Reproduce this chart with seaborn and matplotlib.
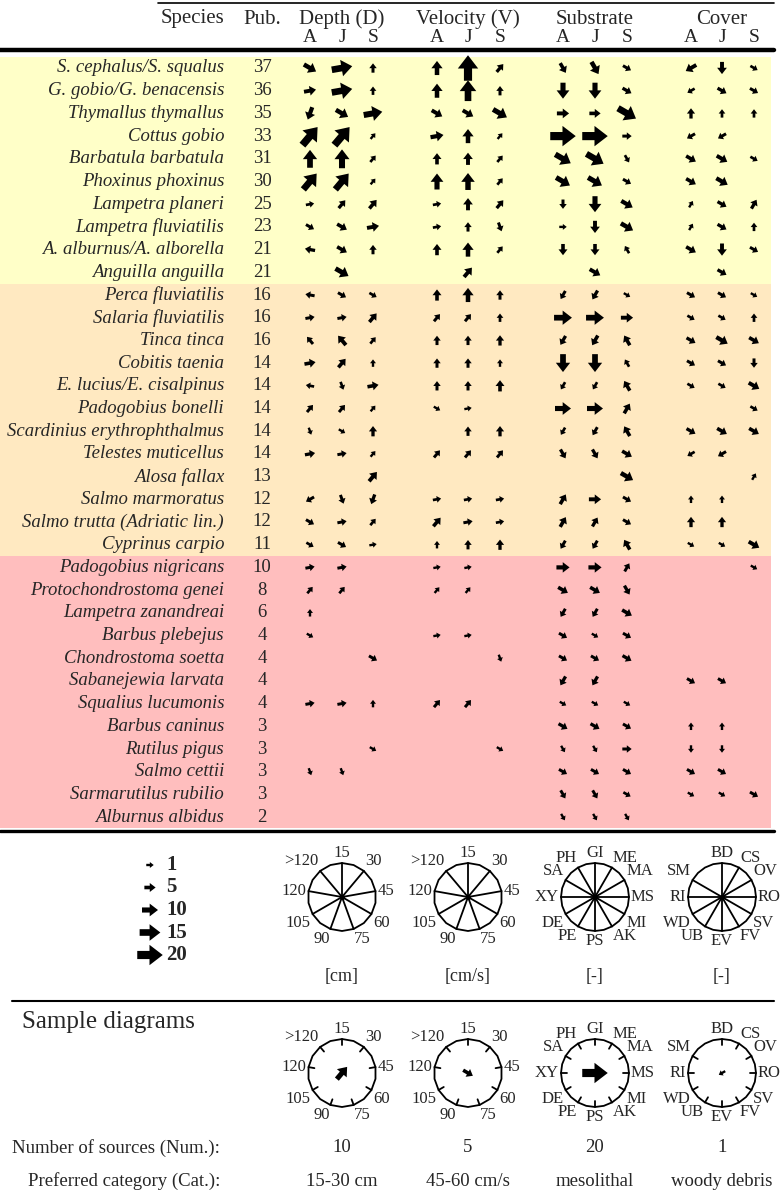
import numpy as np
import pandas as pd
import matplotlib.pyplot as plt
import seaborn as sns
from matplotlib.patches import FancyArrow, Polygon, Rectangle

# ---- data ----
species = ["S. cephalus/S. squalus", "G. gobio/G. benacensis", "Thymallus thymallus",
           "Cottus gobio", "Barbatula barbatula", "Phoxinus phoxinus", "Lampetra planeri",
           "Lampetra fluviatilis", "A. alburnus/A. alborella", "Anguilla anguilla",
           "Perca fluviatilis", "Salaria fluviatilis", "Tinca tinca", "Cobitis taenia",
           "E. lucius/E. cisalpinus", "Padogobius bonelli", "Scardinius erythrophthalmus",
           "Telestes muticellus", "Alosa fallax", "Salmo marmoratus",
           "Salmo trutta (Adriatic lin.)", "Cyprinus carpio", "Padogobius nigricans",
           "Protochondrostoma genei", "Lampetra zanandreai", "Barbus plebejus",
           "Chondrostoma soetta", "Sabanejewia larvata", "Squalius lucumonis",
           "Barbus caninus", "Rutilus pigus", "Salmo cettii", "Sarmarutilus rubilio",
           "Alburnus albidus"]
pubs = [37, 36, 35, 33, 31, 30, 25, 23, 21, 21, 16, 16, 16, 14, 14, 14, 14, 14, 13,
        12, 12, 11, 10, 8, 6, 4, 4, 4, 4, 3, 3, 3, 3, 2]
group_sizes = [10, 12, 12]
group_colors = ["#FFFFC8", "#FFE9C1", "#FFBEBE"]

seasons = ["A", "J", "S"]
depth_cats = ["15", "30", "45", "60", "75", "90", "105", "120", ">120"]
velocity_cats = ["15", "30", "45", "60", "75", "90", "105", "120", ">120"]
substrate_cats = ["GI", "ME", "MA", "MS", "MI", "AK", "PS", "PE", "DE", "XY", "SA", "PH"]
cover_cats = ["BD", "CS", "OV", "RO", "SV", "FV", "EV", "UB", "WD", "RI", "SM"]

# preferred category / number of sources for seasons A J S ("-" = no data)
depth = ["60/8 45/15 15/3", "45/6 45/15 15/2", "90/7 60/8 45/13", "30/18 30/18 30/1",
         "15/12 15/13 30/2", "30/15 30/15 30/1", "45/2 30/4 30/5", "60/3 60/5 45/6",
         "120/4 60/5 15/3", "- 60/9 -", "120/3 60/3 60/2", "45/3 45/3 30/5",
         ">120/3 >120/6 30/2", "45/5 30/5 15/1", "120/2 75/2 45/5", "30/3 30/3 30/1",
         "75/1 60/1 15/4", "45/4 45/3 30/1", "- - 30/6", "105/3 75/3 90/4",
         "60/3 45/3 30/2", "60/2 60/3 45/1", "45/3 45/3 -", "30/2 30/2 -",
         "15/1 - -", "60/1 - -", "- - 60/3", "- - -", "45/3 45/3 15/1", "- - -",
         "- - 60/1", "75/1 75/1 -", "- - -", "- - -"]
velocity = ["15/8 15/20 30/4", "15/8 15/15 15/3", "60/6 60/6 60/10", "45/7 15/8 30/1",
            "15/5 15/6 30/2", "15/10 15/11 30/2", "45/2 15/6 30/4", "45/2 15/3 75/3",
            "15/5 15/8 30/2", "- 30/6 -", "15/5 15/8 15/3", "30/3 30/3 15/2",
            "15/3 15/3 15/4", "15/3 15/3 15/1", "15/3 15/3 15/5", "60/1 45/1 -",
            "- 15/3 15/4", "30/3 30/3 30/3", "- - -", "45/2 45/2 45/2",
            "30/5 45/3 45/2", "15/1 15/3 15/4", "45/1 45/1 -", "30/1 30/1 -",
            "- - -", "45/1 45/1 -", "- - 75/1", "- - -", "30/3 30/3 -", "- - -",
            "- - 60/1", "- - -", "- - -", "- - -"]
substrate = ["AK/5 AK/8 MI/3", "PS/10 PS/10 MI/4", "MS/6 MS/5 MI/15", "MS/20 MS/20 MS/3",
             "MI/12 MI/14 AK/2", "MI/10 MI/10 MI/3", "PS/3 PS/10 MI/7", "MS/1 PS/6 MI/8",
             "PS/5 PS/5 PH/2", "- MI/6 -", "PE/3 PE/4 MI/1", "MS/12 MS/12 MS/6",
             "PE/4 PE/5 PH/5", "PS/12 PS/12 PH/2", "PE/2 PE/2 PH/5", "MS/10 MS/10 ME/5",
             "PE/2 PE/3 PH/5", "AK/4 AK/4 MI/5", "- - MI/8", "ME/5 MS/6 MI/3",
             "ME/5 ME/4 MI/3", "PE/3 PE/3 PH/5", "MS/7 MS/7 ME/3", "MI/5 MI/5 AK/4",
             "PE/3 PE/3 MI/5", "MI/3 MI/1 MI/3", "MI/3 MI/3 MI/4", "PE/4 PE/4 -",
             "MI/1 MI/1 MI/1", "MI/4 MI/4 MI/3", "AK/1 AK/1 MS/3", "MI/3 MI/3 MI/3",
             "AK/3 AK/3 MI/2", "AK/1 AK/1 AK/1"]
cover = ["WD/6 EV/6 SV/2", "WD/2 SV/4 SV/3", "BD/4 BD/2 BD/2", "WD/3 WD/3 -",
         "SV/5 SV/6 SV/2", "SV/5 SV/7 -", "CS/1 SV/4 CS/4", "CS/1 SV/4 BD/2",
         "SV/5 EV/6 SV/3", "- SV/4 -", "SV/3 SV/3 SV/1", "SV/2 SV/2 BD/2",
         "SV/4 SV/7 SV/5", "SV/3 SV/3 EV/3", "SV/2 SV/2 SV/6", "- - SV/2",
         "SV/4 SV/5 SV/5", "WD/2 WD/3 -", "- - CS/1", "BD/1 BD/1 -", "BD/4 BD/4 -",
         "SV/1 SV/1 SV/6", "- - SV/1", "- - -", "- - -", "- - -", "- - -",
         "SV/3 SV/3 -", "- - -", "BD/1 BD/1 -", "EV/1 EV/1 -", "SV/3 SV/3 -",
         "SV/1 SV/1 SV/3", "- - -"]

legend_sizes = [1, 5, 10, 15, 20]
sample_num = [10, 5, 20, 1]
sample_cat = ["30", "60", "MS", "WD"]
sample_text = ["15-30 cm", "45-60 cm/s", "mesolithal", "woody debris"]
units = ["[cm]", "[cm/s]", "[-]", "[-]"]

# ---- layout ----
W, H = 782, 1197
sns.set_theme(style="white")
plt.rcParams["font.family"] = ["Liberation Serif", "DejaVu Serif"]

fig = plt.figure(figsize=(W / 100, H / 100), dpi=100)
ax = fig.add_axes([0, 0, 1, 1])

variables = [
    ("Depth (D)", depth, depth_cats, 40, [310, 342, 373]),
    ("Velocity (V)", velocity, velocity_cats, 40, [437, 468, 500]),
    ("Substrate", substrate, substrate_cats, 30, [563, 595, 627]),
    ("Cover", cover, cover_cats, 30, [691, 722, 754]),
]

row_y0, row_h = 68, 22.7
right_edge = 774


def draw_arrow(x, y, angle, n):
    L = 6.5 + 0.95 * n
    a = np.deg2rad(angle)
    dx, dy = L * np.sin(a), -L * np.cos(a)
    ax.add_patch(FancyArrow(x - dx / 2, y - dy / 2, dx, dy, width=0.32 * L,
                            head_width=0.8 * L, head_length=0.52 * L,
                            length_includes_head=True, color="black", lw=0, zorder=4))


# colour bands
start = 0
for size, col in zip(group_sizes, group_colors):
    top = row_y0 + (start - 0.5) * row_h
    ax.add_patch(Rectangle((0, top), 771, size * row_h, color=col, lw=0, zorder=0))
    start += size

# header
ax.plot([158, right_edge], [3, 3], color="black", lw=1.2)
ax.plot([0, right_edge], [50, 50], color="black", lw=3.2)
ax.text(224, 19, "Species", ha="right", va="center", fontsize=15)
ax.text(262, 19, "Pub.", ha="center", va="center", fontsize=15)
for title, _, _, _, xs in variables:
    ax.text(xs[1], 19, title, ha="center", va="center", fontsize=15)
    for sx, s in zip(xs, seasons):
        ax.text(sx, 38, s, ha="center", va="center", fontsize=14)

# table rows
rows = pd.DataFrame({"species": species, "pub": pubs})
rows["y"] = row_y0 + np.arange(len(rows)) * row_h
for _, r in rows.iterrows():
    ax.text(224, r.y, r.species, ha="right", va="center", fontsize=13.5, style="italic")
    ax.text(262, r.y, str(r.pub), ha="center", va="center", fontsize=13.5)

for _, data, cats, step, xs in variables:
    for i, line in enumerate(data):
        y = row_y0 + i * row_h
        for sx, cell in zip(xs, line.split()):
            if cell == "-":
                continue
            c, n = cell.rsplit("/", 1)
            draw_arrow(sx, y, cats.index(c) * step, int(n))

ax.plot([0, right_edge], [831, 831], color="black", lw=2.4)

# size legend
for k, n in enumerate(legend_sizes):
    y = 865 + k * 22.5
    draw_arrow(150, y, 90, n)
    ax.text(166, y, str(n), ha="left", va="center", fontsize=15, fontweight="bold")


def diagram(cx, cy, cats, step, spokes=True, r=34):
    m = int(round(360 / (step / 2)))
    t = np.deg2rad(np.arange(m) * step / 2)
    ax.add_patch(Polygon(np.c_[cx + r * np.sin(t), cy - r * np.cos(t)], closed=True,
                         fill=False, ec="black", lw=1.3))
    for i, lab in enumerate(cats):
        a = np.deg2rad(i * step)
        s, c = np.sin(a), np.cos(a)
        r0 = 0 if spokes else r - 6
        ax.plot([cx + r0 * s, cx + r * s], [cy - r0 * c, cy - r * c], color="black", lw=1.3)
        ha = "left" if s > 0.25 else ("right" if s < -0.25 else "center")
        va = "bottom" if c > 0.25 else ("top" if c < -0.25 else "center")
        ax.text(cx + (r + 2) * s, cy - (r + 2) * c, lab, ha=ha, va=va, fontsize=12)


centers_x = [v[4][1] for v in variables]
for (title, _, cats, step, xs), u in zip(variables, units):
    diagram(xs[1], 897, cats, step, spokes=True)
    ax.text(xs[1], 976, u, ha="center", va="center", fontsize=13)
dots = pd.DataFrame({"x": centers_x, "y": [897] * 4})
sns.scatterplot(data=dots, x="x", y="y", ax=ax, color="black", s=14, linewidth=0,
                legend=False, zorder=5)

ax.plot([12, right_edge], [1001, 1001], color="black", lw=1.5)

# sample diagrams
ax.text(22, 1022, "Sample diagrams", ha="left", va="center", fontsize=18)
for (title, _, cats, step, xs), n, c, txt in zip(variables, sample_num, sample_cat, sample_text):
    diagram(xs[1], 1073, cats, step, spokes=False)
    draw_arrow(xs[1], 1073, cats.index(c) * step, n)
    ax.text(xs[1], 1148, str(n), ha="center", va="center", fontsize=13.5)
    ax.text(xs[1], 1181, txt, ha="center", va="center", fontsize=13.5)
ax.text(220, 1148, "Number of sources (Num.):", ha="right", va="center", fontsize=13.5)
ax.text(220, 1181, "Preferred category (Cat.):", ha="right", va="center", fontsize=13.5)

ax.set_xlim(0, W)
ax.set_ylim(H, 0)
ax.axis("off")
fig.savefig("out.png", dpi=100)
